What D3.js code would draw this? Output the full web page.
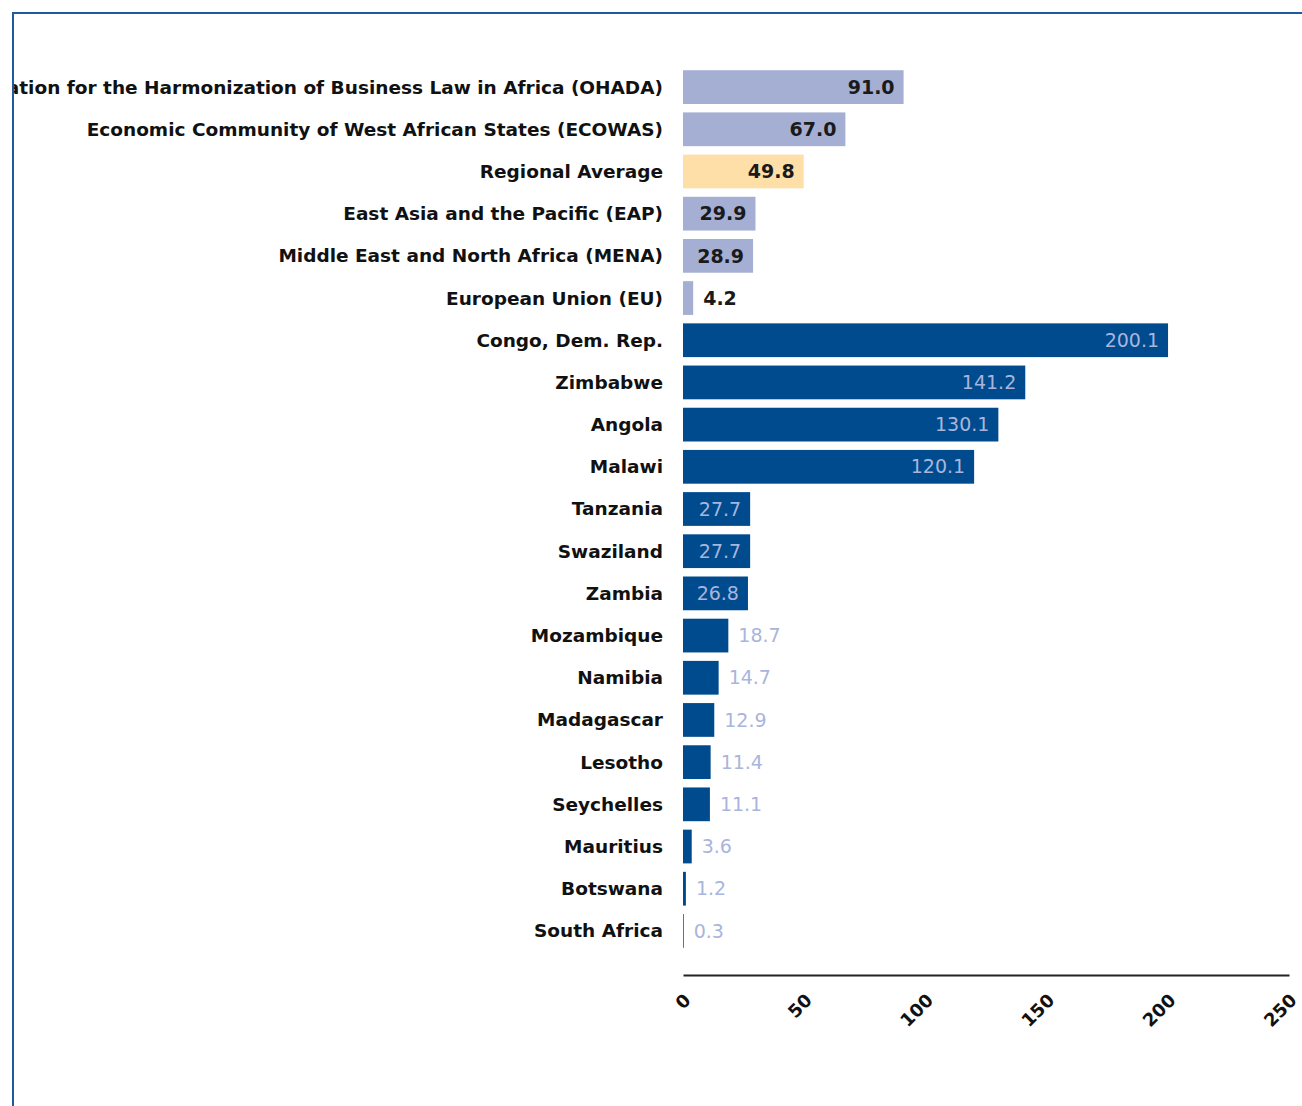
<!DOCTYPE html>
<html>
<head>
<meta charset="utf-8">
<script src="https://cdn.jsdelivr.net/npm/d3@7"></script>
<style>
  html, body { margin: 0; padding: 0; background: #fff; }
  svg { display: block; }
</style>
</head>
<body>
<svg id="chart" width="1302" height="1106"></svg>
<script>
// Economies and comparison groups, top to bottom
const categories = [
  "Organization for the Harmonization of Business Law in Africa (OHADA)",
  "Economic Community of West African States (ECOWAS)",
  "Regional Average",
  "East Asia and the Pacific (EAP)",
  "Middle East and North Africa (MENA)",
  "European Union (EU)",
  "Congo, Dem. Rep.",
  "Zimbabwe",
  "Angola",
  "Malawi",
  "Tanzania",
  "Swaziland",
  "Zambia",
  "Mozambique",
  "Namibia",
  "Madagascar",
  "Lesotho",
  "Seychelles",
  "Mauritius",
  "Botswana",
  "South Africa"
];
const values = [91.0, 67.0, 49.8, 29.9, 28.9, 4.2, 200.1, 141.2, 130.1, 120.1, 27.7, 27.7, 26.8, 18.7, 14.7, 12.9, 11.4, 11.1, 3.6, 1.2, 0.3];
// group of each row: "cmp" = comparison group, "avg" = regional average, "eco" = economy
const groups = ["cmp", "cmp", "avg", "cmp", "cmp", "cmp", "eco", "eco", "eco", "eco", "eco", "eco", "eco", "eco", "eco", "eco", "eco", "eco", "eco", "eco", "eco"];
const xTicks = [0, 50, 100, 150, 200, 250];

const fill = { cmp: "#a4afd3", avg: "#fedfa8", eco: "#004b8d" };
const labelInside = { cmp: "#1a1a1a", avg: "#1a1a1a", eco: "#a9b5dc" };
const labelOutside = { cmp: "#1a1a1a", avg: "#1a1a1a", eco: "#a9b5dc" };

const svg = d3.select("#chart");
const font = "'DejaVu Sans', Tahoma, sans-serif";

// frame
svg.append("rect")
  .attr("x", 13).attr("y", 13)
  .attr("width", 1400).attr("height", 1200)
  .attr("fill", "none").attr("stroke", "#1f5aa0").attr("stroke-width", 2);

svg.append("clipPath").attr("id", "frameClip")
  .append("rect").attr("x", 14).attr("y", 14).attr("width", 1288).attr("height", 1092);

const g = svg.append("g").attr("clip-path", "url(#frameClip)");

const x = d3.scaleLinear().domain([0, 250]).range([683, 1289]);
const y = d3.scaleBand().domain(categories).range([66, 952]).paddingInner(0.2).paddingOuter(0.1);

const rows = categories.map((c, i) => ({ c, v: values[i], grp: groups[i] }));

g.selectAll("rect.bar").data(rows).enter().append("rect")
  .attr("class", "bar")
  .attr("x", x(0))
  .attr("y", d => y(d.c))
  .attr("width", d => x(d.v) - x(0))
  .attr("height", y.bandwidth())
  .attr("fill", d => fill[d.grp]);

// category labels
g.selectAll("text.cat").data(rows).enter().append("text")
  .attr("class", "cat")
  .attr("x", 663)
  .attr("y", d => y(d.c) + y.bandwidth() / 2)
  .attr("dy", "0.35em")
  .attr("text-anchor", "end")
  .attr("font-family", font)
  .attr("font-weight", "bold")
  .attr("font-size", 18.5)
  .attr("fill", "#111")
  .text(d => d.c);

// value labels: inside the bar end when the bar is long enough
const insideMin = 26;
g.selectAll("text.val").data(rows).enter().append("text")
  .attr("class", "val")
  .attr("x", d => d.v >= insideMin ? x(d.v) - 9 : x(d.v) + 10)
  .attr("y", d => y(d.c) + y.bandwidth() / 2)
  .attr("dy", "0.35em")
  .attr("text-anchor", d => d.v >= insideMin ? "end" : "start")
  .attr("font-family", font)
  .attr("font-weight", d => d.grp === "eco" ? "normal" : "bold")
  .attr("font-size", 19)
  .attr("fill", d => d.v >= insideMin ? labelInside[d.grp] : labelOutside[d.grp])
  .text(d => d.v.toFixed(1));

// x axis
const axis = d3.axisBottom(x).tickValues(xTicks).tickSize(0).tickPadding(0);
const ax = g.append("g").attr("transform", "translate(0,975)").call(axis);
ax.select(".domain").attr("stroke", "#222").attr("stroke-width", 2);
ax.selectAll(".tick text")
  .attr("font-family", font)
  .attr("font-weight", "bold")
  .attr("font-size", 18)
  .attr("fill", "#111")
  .attr("text-anchor", "end")
  .attr("transform", "translate(4,22) rotate(-45)")
  .attr("dy", "0.35em");
</script>
</body>
</html>
